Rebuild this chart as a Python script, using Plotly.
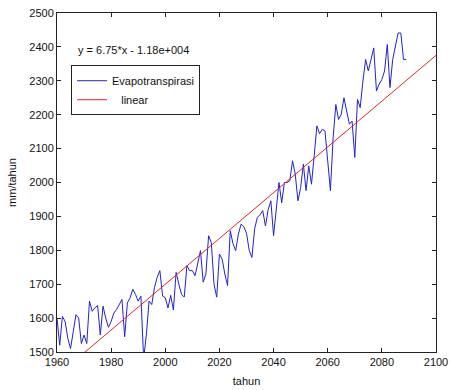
import numpy as np
import plotly.graph_objects as go

# Annual evapotranspiration (mm/tahun), 1960-2089
tahun = list(range(1960, 2090))
evapotranspirasi = [
    1600, 1520, 1605, 1590, 1540, 1510, 1560, 1610, 1600, 1525,
    1550, 1525, 1650, 1620, 1630, 1637, 1550, 1635, 1600, 1573,
    1590, 1615, 1625, 1640, 1655, 1545, 1645, 1660, 1685, 1670,
    1650, 1665, 1480, 1550, 1650, 1640, 1690, 1720, 1740, 1665,
    1660, 1630, 1667, 1624, 1735, 1700, 1670, 1662, 1755, 1740,
    1740, 1725, 1760, 1799, 1706, 1730, 1843, 1823, 1700, 1662,
    1789, 1774, 1730, 1696, 1858, 1820, 1799, 1848, 1877, 1870,
    1850, 1800, 1779, 1863, 1897, 1905, 1917, 1872, 1920, 1946,
    1843, 1930, 2000, 1940, 2000, 2000, 2005, 2064, 2025, 1946,
    1985, 2054, 1976, 2049, 1995, 2079, 2167, 2144, 2157, 2152,
    2050, 1976, 2132, 2230, 2186, 2201, 2250, 2210, 2172, 2181,
    2074, 2245, 2221, 2299, 2363, 2329, 2360, 2397, 2270, 2290,
    2304, 2329, 2407, 2280, 2363, 2400, 2441, 2441, 2363, 2363,
]

# Linear trend: y = 6.75*x - 1.18e+004
slope = 6.75
intercept = -1.18e4
fit_x = np.array([1960, 2100])
fit_y = slope * fit_x + intercept

x_ticks = list(range(1960, 2101, 20))
y_ticks = list(range(1500, 2501, 100))

font_family = "Liberation Sans, Arial, sans-serif"

fig = go.Figure()
fig.add_trace(go.Scatter(
    x=tahun, y=evapotranspirasi, mode="lines",
    name="Evapotranspirasi",
    line=dict(color="#2222d0", width=1),
))
fig.add_trace(go.Scatter(
    x=fit_x, y=fit_y, mode="lines",
    name="\u00a0\u00a0\u00a0linear",
    line=dict(color="#e02424", width=1),
))

fig.add_annotation(
    text=f"y = {slope}*x - 1.18e+004",
    xref="paper", yref="paper", x=0.05, y=0.89,
    xanchor="left", yanchor="middle", showarrow=False,
    font=dict(size=11, color="#111111", family=font_family),
)

axis_common = dict(
    showline=True, linecolor="#222222", linewidth=1, mirror="ticks",
    ticks="inside", ticklen=4, tickcolor="#222222",
    showgrid=False, zeroline=False, automargin=False,
    tickfont=dict(size=11, color="#111111", family=font_family),
)

fig.update_layout(
    width=450, height=390,
    margin=dict(l=57, r=14, t=13, b=38),
    paper_bgcolor="white", plot_bgcolor="white",
    font=dict(family=font_family, size=11, color="#111111"),
    xaxis=dict(range=[1960, 2100], tickvals=x_ticks,
               title=dict(text="tahun", standoff=10, font=dict(size=11)),
               **axis_common),
    yaxis=dict(range=[1500, 2500], tickvals=y_ticks,
               title=dict(text="mm/tahun", standoff=10, font=dict(size=11)),
               **axis_common),
    showlegend=True,
    legend=dict(
        x=0.037, y=0.846, xanchor="left", yanchor="top",
        bgcolor="white", bordercolor="#222222", borderwidth=1,
        font=dict(size=11, color="#111111", family=font_family),
        tracegroupgap=0, itemwidth=30,
    ),
)

fig.write_html("out.html")
